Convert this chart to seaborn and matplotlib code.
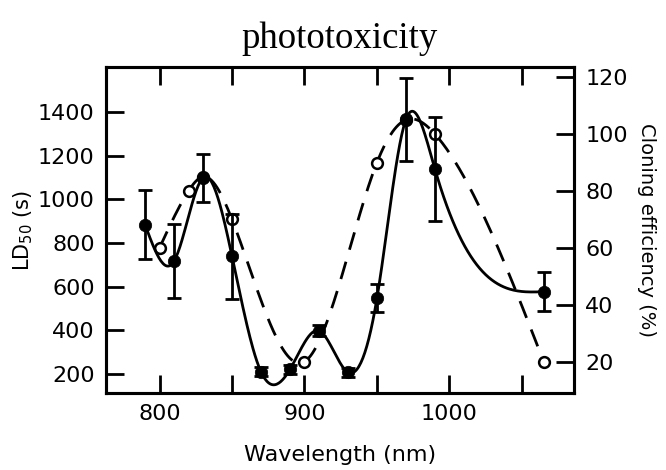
import numpy as np
import pandas as pd
import matplotlib
matplotlib.use("Agg")
import matplotlib.pyplot as plt
from matplotlib.ticker import MultipleLocator
import seaborn as sns

# ---- data ----
wl_ld = [790, 810, 830, 850, 870, 890, 910, 930, 950, 970, 990, 1065]
ld50 = [885, 717, 1100, 740, 210, 221, 398, 208, 547, 1367, 1139, 577]
ld50_err = [160, 170, 110, 195, 20, 20, 25, 20, 65, 190, 240, 90]

wl_ce = [800, 820, 830, 850, 900, 950, 970, 990, 1065]
cloning = [60, 80, 85, 70, 20, 90, 105, 100, 20]

x_ticks = [800, 900, 1000]
ld_ticks = [200, 400, 600, 800, 1000, 1200, 1400]
ce_ticks = [20, 40, 60, 80, 100, 120]


def natural_spline(x, y, n=400):
    x = np.asarray(x, float)
    y = np.asarray(y, float)
    m = len(x)
    h = np.diff(x)
    A = np.zeros((m, m))
    b = np.zeros(m)
    A[0, 0] = 1
    A[-1, -1] = 1
    for i in range(1, m - 1):
        A[i, i - 1] = h[i - 1]
        A[i, i] = 2 * (h[i - 1] + h[i])
        A[i, i + 1] = h[i]
        b[i] = 3 * ((y[i + 1] - y[i]) / h[i] - (y[i] - y[i - 1]) / h[i - 1])
    c = np.linalg.solve(A, b)
    xs = np.linspace(x[0], x[-1], n)
    idx = np.clip(np.searchsorted(x, xs, side="right") - 1, 0, m - 2)
    dx = xs - x[idx]
    hb = h[idx]
    bb = (y[idx + 1] - y[idx]) / hb - hb * (2 * c[idx] + c[idx + 1]) / 3
    dd = (c[idx + 1] - c[idx]) / (3 * hb)
    ys = y[idx] + bb * dx + c[idx] * dx ** 2 + dd * dx ** 3
    return xs, ys


sns.set_style("ticks")
plt.rcParams["font.family"] = ["DejaVu Sans"]
plt.rcParams["text.color"] = "black"
plt.rcParams["axes.labelcolor"] = "black"
plt.rcParams["xtick.color"] = "black"
plt.rcParams["ytick.color"] = "black"

fig = plt.figure(figsize=(6.66, 4.70), dpi=100)
ax = fig.add_axes([0.159, 0.164, 0.703, 0.693])
ax2 = ax.twinx()

# cloning efficiency (right axis): dashed curve + open circles
cx, cy = natural_spline(wl_ce, cloning)
df_c = pd.DataFrame({"x": cx, "y": cy})
sns.lineplot(data=df_c, x="x", y="y", ax=ax2, color="black", lw=2.0,
             sort=False, estimator=None)
ax2.lines[-1].set_dashes([6.5, 4.5])
df_ce = pd.DataFrame({"x": wl_ce, "y": cloning})
sns.scatterplot(data=df_ce, x="x", y="y", ax=ax2, marker="o", s=60,
                facecolor="white", edgecolor="black", linewidth=1.8, zorder=3)

# LD50 (left axis): solid curve + filled circles with error bars
lx, ly = natural_spline(wl_ld, ld50)
df_l = pd.DataFrame({"x": lx, "y": ly})
sns.lineplot(data=df_l, x="x", y="y", ax=ax, color="black", lw=2.0,
             sort=False, estimator=None)
ax.errorbar(wl_ld, ld50, yerr=ld50_err, fmt="none", ecolor="black",
            elinewidth=2.0, capsize=5, capthick=2.0, zorder=3)
df_ld = pd.DataFrame({"x": wl_ld, "y": ld50})
sns.scatterplot(data=df_ld, x="x", y="y", ax=ax, marker="o", s=80,
                color="black", edgecolor="black", linewidth=0.5, zorder=4)

ax.set_zorder(ax2.get_zorder() + 1)
ax.patch.set_visible(False)

ax.set_xlim(763, 1086)
ax.set_ylim(113, 1606)
ax2.set_ylim(9, 123.5)
ax.set_xticks(x_ticks)
ax.xaxis.set_minor_locator(MultipleLocator(50))
ax.set_yticks(ld_ticks)
ax2.set_yticks(ce_ticks)

tick_kw = dict(direction="in", length=13, width=2.0, color="black")
ax.tick_params(axis="x", which="both", top=True, bottom=True, labelsize=16, pad=8, **tick_kw)
ax.tick_params(axis="y", which="major", left=True, right=False, labelsize=16, pad=8, **tick_kw)
ax2.tick_params(axis="y", which="major", right=True, labelsize=16, pad=8, **tick_kw)

for a in (ax, ax2):
    for s in a.spines.values():
        s.set_linewidth(2.2)
        s.set_color("black")
        s.set_visible(True)

ax.set_xlabel("Wavelength (nm)", fontsize=16, labelpad=15)
ax.set_ylabel(r"LD$_{50}$ (s)", fontsize=15, labelpad=2)
ax2.set_ylabel("Cloning efficiency (%)", fontsize=14, rotation=270,
               labelpad=20)
ax.set_title("phototoxicity", fontsize=26.5, family="Liberation Serif", pad=14)

fig.savefig("out.png", dpi=100)
